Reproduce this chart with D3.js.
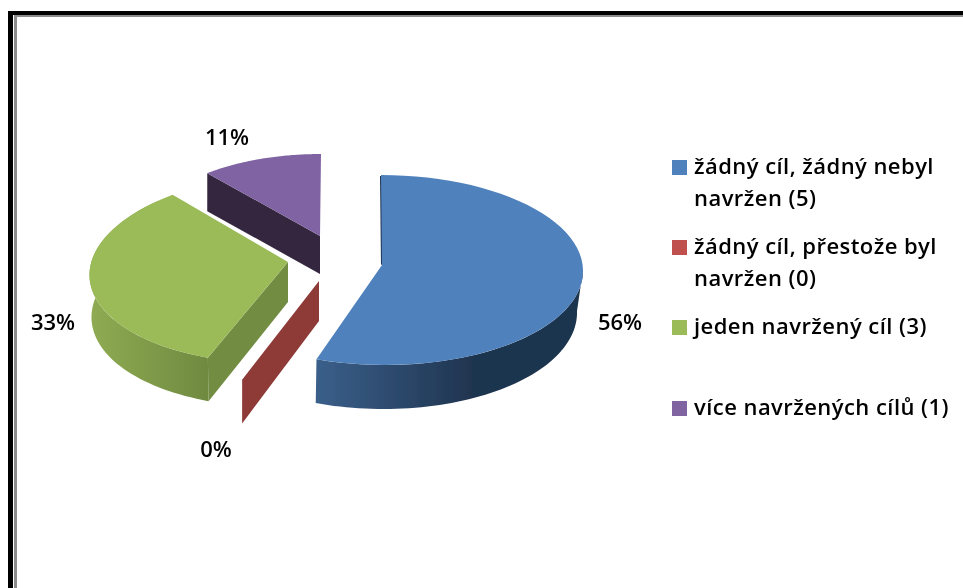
<!DOCTYPE html>
<html><head><meta charset="utf-8">
<script src="https://cdn.jsdelivr.net/npm/d3@7"></script>
<style>html,body{margin:0;padding:0;background:#fff}svg{display:block}
text{font-family:"Open Sans",sans-serif;font-weight:600;fill:#000}</style></head>
<body><svg id="c" width="963" height="588"></svg>
<script>
const categories = ["žádný cíl, žádný nebyl navržen (5)","žádný cíl, přestože byl navržen (0)","jeden navržený cíl (3)","více navržených cílů (1)"];
const legendLines = [["žádný cíl, žádný nebyl","navržen (5)"],["žádný cíl, přestože byl","navržen (0)"],["jeden navržený cíl (3)"],["více navržených cílů (1)"]];
const counts = [5,0,3,1];
const colors = ["#4f81bd","#c0504d","#9bbb59","#8064a2"];
const cutColors = ["#1f3550","#8e3a38","#728c42","#35263f"];

const svg = d3.select("#c");
const defs = svg.append("defs");
const total = d3.sum(counts);
const pct = d3.format(".0%");
const arcs = d3.pie().sort(null).value(d=>d)(counts);

defs.append("filter").attr("id","soft").append("feGaussianBlur").attr("stdDeviation",0.35);

// frame
svg.append("rect").attr("x",14).attr("y",15).attr("width",949).attr("height",2).attr("fill","#8c8c8c");
svg.append("rect").attr("x",14).attr("y",15).attr("width",3).attr("height",573).attr("fill","#8c8c8c");
svg.append("rect").attr("x",8).attr("y",11).attr("width",955).attr("height",4).attr("fill","#000");
svg.append("rect").attr("x",8).attr("y",11).attr("width",5).attr("height",577).attr("fill","#000");

// 3D geometry of each exploded slice: top and bottom ellipses plus apex
const geo = [
 {apex:[382,265],apexB:[383,262],top:{cx:383,cy:270,rx:200,ry:95,s:2},bot:{cx:380,cy:311,rx:197,ry:98,s:3.3}},
 {apex:[319,281],apexB:[319,321],top:{cx:319,cy:281,rx:200,ry:105,s:-9},bot:{cx:319,cy:321,rx:200,ry:109,s:-9}},
 {apex:[288,262],apexB:[288,302],top:{cx:290,cy:268,rx:200,ry:95.5,s:-14.6},bot:{cx:290,cy:310,rx:198,ry:97,s:-14.6}},
 {apex:[320,236],apexB:[320,274],top:{cx:321,cy:236,rx:177,ry:82,s:0},bot:{cx:321,cy:274,rx:177,ry:82,s:0}}
];
const proj = (e,t)=>[e.cx+e.rx*Math.sin(t)-e.s*Math.cos(t), e.cy-e.ry*Math.cos(t)];
const line = d3.line();
const sample = (a,b)=>d3.range(0,61).map(i=>a+(b-a)*i/60);

function grad(id,x1,x2,stops){
  const g = defs.append("linearGradient").attr("id",id).attr("gradientUnits","userSpaceOnUse")
    .attr("x1",x1).attr("x2",x2).attr("y1",0).attr("y2",0);
  stops.forEach(([o,c])=>g.append("stop").attr("offset",o).attr("stop-color",c));
}
grad("g0",316,580,[[0,"#3a5f8a"],[0.6,"#1f344f"],[1,"#1f344f"]]);
grad("g2",93,209,[[0,"#8eaa52"],[1,"#6f8a40"]]);

const chart = svg.append("g").attr("filter","url(#soft)");
const order = [3,2,1,0];
order.forEach(i=>{
  const d = arcs[i], g = geo[i], a0 = d.startAngle, a1 = d.endAngle;
  const G = chart.append("g");
  if (i===1) {
    G.append("path").attr("d",line([g.apex,proj(g.top,a0),proj(g.bot,a0),g.apexB])+"Z").attr("fill",cutColors[1]);
    return;
  }
  if (i===0) {
    G.append("path").attr("d",line([[g.apex[0]-2,176],[g.apex[0]-1,g.apex[1]],[g.apex[0]+3,g.apex[1]-3],[g.apex[0]+2,176]])+"Z").attr("fill",cutColors[0]);
  }
  if (i===0||i===2) {
    // only the part of the rim that faces the viewer has a wall
    const ang = sample(Math.max(a0,Math.PI/2),Math.min(a1,1.75*Math.PI));
    const wall = ang.map(t=>proj(g.top,t)).concat(ang.slice().reverse().map(t=>proj(g.bot,t)));
    G.append("path").attr("d",line(wall)+"Z").attr("fill",`url(#g${i})`);
  }
  if (i===2 || i===3) {
    G.append("path").attr("d",line([g.apex,proj(g.top,a0),proj(g.bot,a0),g.apexB])+"Z").attr("fill",cutColors[i]);
  }
  const top = [g.apex].concat(sample(a0,a1).map(t=>proj(g.top,t)));
  G.append("path").attr("d",line(top)+"Z").attr("fill",colors[i]);
});

// percentage labels
const labelPos = [[620,330],[216,457],[53,330],[227,145]];
svg.append("g").attr("filter","url(#soft)").selectAll("text").data(counts).join("text")
  .attr("x",(d,i)=>labelPos[i][0]).attr("y",(d,i)=>labelPos[i][1])
  .attr("text-anchor","middle").attr("font-size",22)
  .text(d=>pct(d/total));

// legend
const legendY = [160,240,320,401];
const legend = svg.append("g").selectAll("g").data(categories).join("g")
  .attr("transform",(d,i)=>`translate(672,${legendY[i]})`);
legend.append("rect").attr("width",15).attr("height",15).attr("fill",(d,i)=>colors[i]);
legend.each(function(d,i){
  d3.select(this).selectAll("text").data(legendLines[i]).join("text")
    .attr("filter","url(#soft)")
    .attr("x",22).attr("y",(l,j)=>14+j*32).attr("font-size",22).attr("letter-spacing",0.45).text(l=>l);
});
</script></body></html>
